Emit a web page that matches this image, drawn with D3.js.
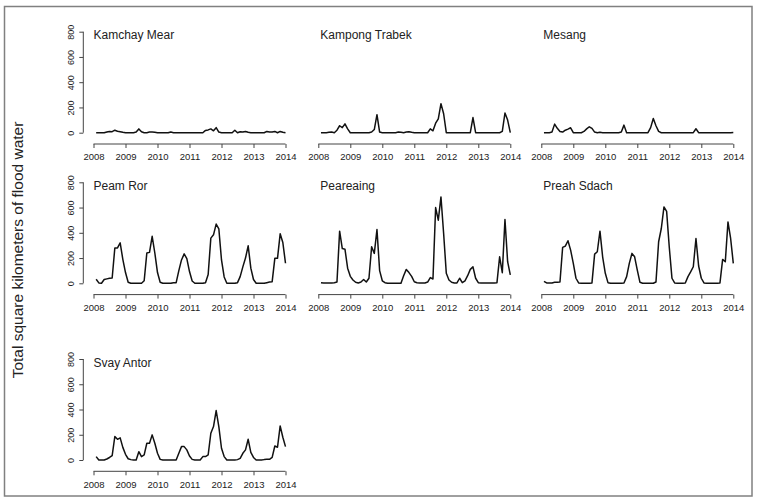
<!DOCTYPE html>
<html>
<head>
<meta charset="utf-8">
<script src="https://cdn.jsdelivr.net/npm/d3@7"></script>
<style>
  html, body { margin: 0; padding: 0; background: #fff; }
  svg { display: block; font-family: "Liberation Sans", Arial, sans-serif; }
</style>
</head>
<body>
<svg id="chart" width="759" height="503"></svg>
<script>
// ---- data (monthly, Feb 2008 .. Jan 2014) ----
const months = d3.range(1, 73).map(i => 2008 + i / 12);
const yearTicks = [2008, 2009, 2010, 2011, 2012, 2013, 2014];
const valueTicks = [0, 200, 400, 600, 800];
const yLabel = "Total square kilometers of flood water";

const names = ["Kamchay Mear", "Kampong Trabek", "Mesang", "Peam Ror", "Peareaing", "Preah Sdach", "Svay Antor"];

const kamchayMear = [
  0,0,0,0,5,10,8,20,12,8,3,0,
  0,0,0,5,30,8,0,0,5,5,3,0,
  0,0,0,0,5,0,0,0,0,0,0,0,
  0,0,0,0,0,18,22,30,15,40,5,0,
  0,0,0,0,20,0,8,5,10,3,0,0,
  0,0,0,0,10,5,5,10,0,10,3,0
];
const kampongTrabek = [
  0,0,0,3,5,0,20,55,40,70,30,0,
  0,0,0,0,0,0,0,5,25,143,5,0,
  0,0,0,0,0,5,3,0,5,8,3,0,
  0,0,0,0,0,30,15,75,110,230,150,0,
  0,0,0,0,0,0,0,0,0,120,0,0,
  0,0,0,0,0,0,0,0,10,156,100,0
];
const mesang = [
  0,0,0,5,68,35,10,5,20,28,39,0,
  0,0,0,10,30,47,34,5,0,3,0,0,
  0,0,0,0,0,5,60,0,0,0,0,0,
  0,0,0,0,40,112,55,10,0,0,0,0,
  0,0,0,0,0,0,0,0,0,31,0,0,
  0,0,0,0,0,0,0,0,0,0,0,2
];
const peamRor = [
  32,3,0,30,35,40,42,280,280,320,190,85,
  8,0,0,0,0,0,20,240,245,372,240,85,
  8,0,0,0,0,5,5,100,185,233,195,93,
  18,0,0,0,0,5,70,358,384,469,432,185,
  50,0,0,0,0,5,53,130,200,297,120,30,
  0,0,0,0,5,10,13,198,198,392,323,159
];
const peareaing = [
  5,3,3,3,3,5,10,413,275,270,120,55,
  26,8,3,10,30,10,40,290,237,426,100,20,
  5,0,0,0,0,0,0,60,110,85,55,12,
  5,3,3,3,10,45,34,600,500,684,395,79,
  26,8,3,3,40,5,20,60,110,130,40,5,
  3,3,3,3,3,3,5,210,84,505,171,66
];
const preahSdach = [
  16,3,3,3,8,9,10,284,295,337,263,158,
  40,3,0,0,0,0,3,231,250,413,210,79,
  5,0,0,0,0,0,3,53,158,237,210,105,
  8,0,0,0,0,0,10,329,434,605,570,284,
  40,3,0,0,0,3,53,90,131,355,137,40,
  3,0,0,0,0,0,3,189,171,486,355,158
];
const svayAntor = [
  27,0,0,0,8,20,35,186,164,175,100,45,
  10,3,0,0,66,27,40,133,133,199,133,53,
  5,0,0,0,0,0,0,53,106,106,80,32,
  5,0,0,0,27,27,40,212,265,392,265,93,
  27,0,0,0,0,3,13,53,80,164,60,20,
  0,0,0,3,5,5,21,111,101,270,180,106
];
const seriesList = [kamchayMear, kampongTrabek, mesang, peamRor, peareaing, preahSdach, svayAntor];

// ---- layout ----
const colX = [93.5, 318.3, 541.3];   // pixel of year 2008
const rowY0 = [132.7, 283.3, 460];   // pixel of value 0
const plotW = 192, plotH = 101;
const FONT = '"Liberation Sans", Arial, sans-serif';

const svg = d3.select("#chart");

svg.append("rect")
  .attr("x", 4.5).attr("y", 6.5).attr("width", 747.5).attr("height", 489.5)
  .attr("fill", "none").attr("stroke", "#808080").attr("stroke-width", 1.5);

svg.append("text")
  .attr("transform", "translate(23,250) rotate(-90)")
  .attr("text-anchor", "middle")
  .attr("font-size", 15.5)
  .attr("fill", "#222")
  .text(yLabel);

names.forEach((name, k) => {
  const col = k % 3, row = Math.floor(k / 3);
  const x = d3.scaleLinear().domain([2008, 2014]).range([colX[col], colX[col] + plotW]);
  const y = d3.scaleLinear().domain([0, 800]).range([rowY0[row], rowY0[row] - plotH]);
  const g = svg.append("g");

  // x axis
  const xa = g.append("g")
    .attr("transform", `translate(0,${rowY0[row] + 11.3})`)
    .call(d3.axisBottom(x).tickValues(yearTicks).tickFormat(d3.format("d")).tickSize(4).tickPadding(5.5));
  xa.select(".domain").attr("stroke", "#444").attr("d", `M${x(2008)},0H${x(2014)}`);
  xa.selectAll(".tick line").attr("stroke", "#444");
  xa.selectAll("text").attr("font-size", 9.5).attr("fill", "#222").attr("font-family", FONT);

  // y axis (left column only)
  if (col === 0) {
    const ya = g.append("g")
      .attr("transform", `translate(${colX[col] - 10.2},0)`)
      .call(d3.axisLeft(y).tickValues(valueTicks).tickSize(4).tickPadding(3));
    ya.select(".domain").attr("stroke", "#444").attr("d", `M0,${y(0)}V${y(800)}`);
    ya.selectAll(".tick line").attr("stroke", "#444");
    ya.selectAll("text")
      .attr("font-size", 9).attr("fill", "#222").attr("font-family", FONT)
      .attr("text-anchor", "middle")
      .attr("x", null)
      .attr("transform", "translate(-12.5,0) rotate(-90)")
      .attr("dy", "0.35em");
  }

  // line
  const data = months.map((t, i) => ({ t, v: seriesList[k][i] }));
  g.append("path")
    .datum(data)
    .attr("fill", "none")
    .attr("stroke", "#111")
    .attr("stroke-width", 1.5)
    .attr("stroke-linejoin", "round")
    .attr("d", d3.line().x(d => x(d.t)).y(d => y(d.v)));

  // title
  g.append("text")
    .attr("x", colX[col] + (col === 0 ? 0 : 2))
    .attr("y", rowY0[row] - 93.5)
    .attr("font-size", 12)
    .attr("fill", "#222")
    .text(name);
});
</script>
</body>
</html>
